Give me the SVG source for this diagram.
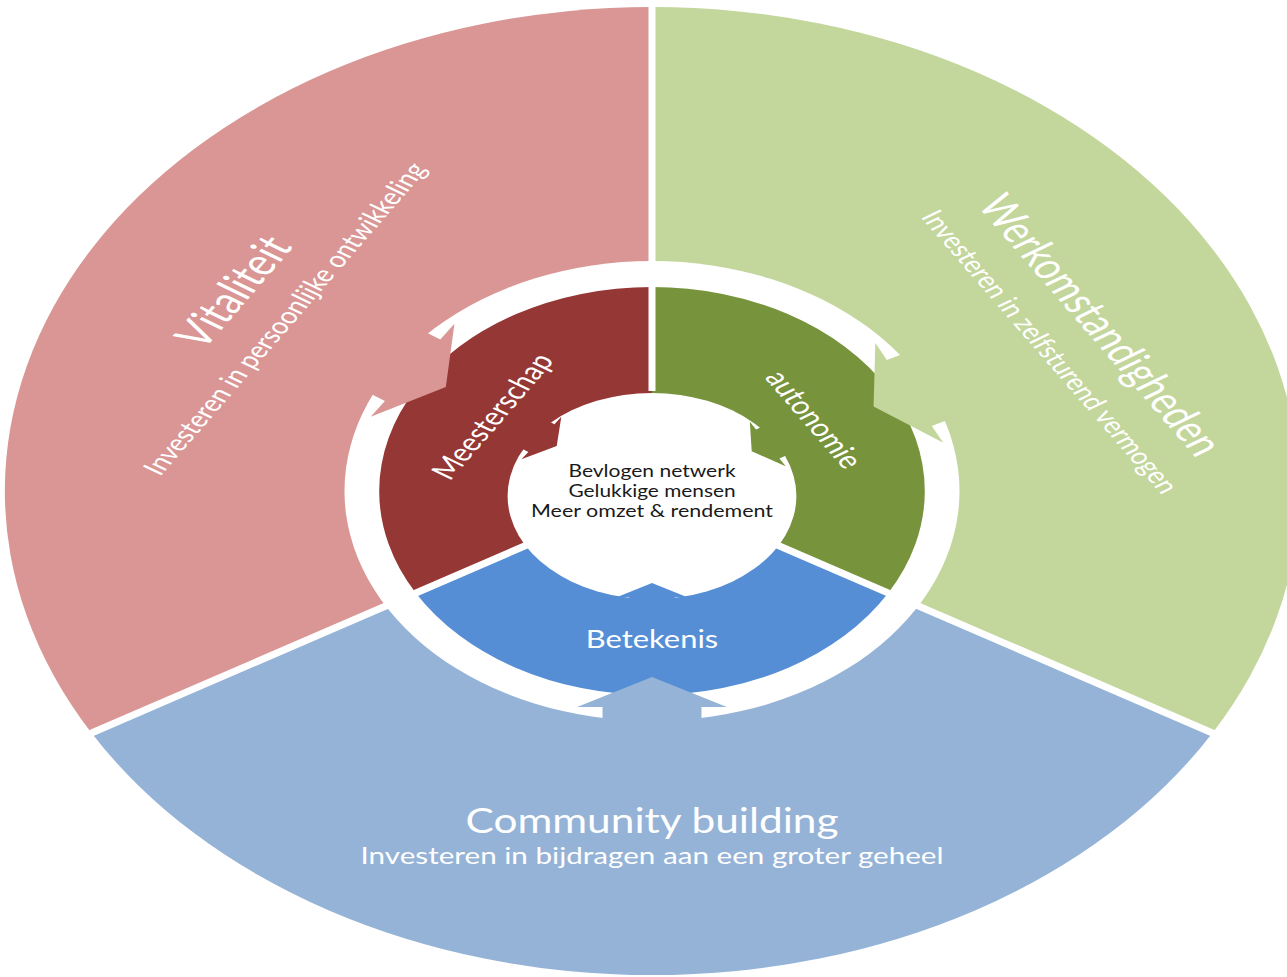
<svg xmlns="http://www.w3.org/2000/svg" width="1287" height="977" viewBox="0 0 1287 977">
<defs>
<style>
.t{font-family:Lato,"Liberation Sans",sans-serif;fill:#ffffff;text-anchor:middle}
.c{font-family:Lato,"Liberation Sans",sans-serif;fill:#1a1a1a;font-size:17px;text-anchor:middle}
.sep{stroke:#ffffff;stroke-width:7;vector-effect:non-scaling-stroke;fill:none}
</style>
<polygon id="outerArrow" points="0,186 56,216 37,216 37,300 -37,300 -37,216 -56,216"/>
<polygon id="innerArrow" points="0,92 26,106 17,106 17,160 -17,160 -17,106 -26,106"/>
</defs>
<rect width="1287" height="977" fill="#ffffff"/>
<g transform="translate(652,491) scale(1.337,1)">
  <g id="node-vitaliteit">
    <path d="M0,0 L-419.2,242 A484,484 0 0 1 0,-484 Z" fill="#D99694"/>
    <text class="t" font-size="38" textLength="124" lengthAdjust="spacingAndGlyphs" transform="translate(-302,-192) rotate(-57)">Vitaliteit</text>
    <text class="t" font-size="23" textLength="367" lengthAdjust="spacingAndGlyphs" transform="translate(-268,-168) rotate(-57)">Investeren in persoonlijke ontwikkeling</text>
  </g>
  <g id="node-werkomstandigheden">
    <path d="M0,0 L0,-484 A484,484 0 0 1 419.2,242 Z" fill="#C3D69B"/>
    <text class="t" font-size="37" textLength="302" lengthAdjust="spacingAndGlyphs" transform="translate(325,-159) rotate(57)">Werkomstandigheden</text>
    <text class="t" font-size="23" textLength="332" lengthAdjust="spacingAndGlyphs" transform="translate(291,-135) rotate(57)">Investeren in zelfsturend vermogen</text>
  </g>
  <g id="node-community">
    <path d="M0,0 L419.2,242 A484,484 0 0 1 -419.2,242 Z" fill="#95B3D7"/>
    <text class="t" font-size="35" textLength="279" lengthAdjust="spacingAndGlyphs" x="0" y="342">Community building</text>
    <text class="t" font-size="24" textLength="436" lengthAdjust="spacingAndGlyphs" x="0" y="373">Investeren in bijdragen aan een groter geheel</text>
  </g>
  <circle id="ring" cx="0" cy="0" r="230" fill="#ffffff"/>
  <g id="node-meesterschap">
    <path d="M0,0 L-176.7,102 A204,204 0 0 1 0,-204 Z" fill="#953735"/>
  </g>
  <g id="node-autonomie">
    <path d="M0,0 L0,-204 A204,204 0 0 1 176.7,102 Z" fill="#77933C"/>
  </g>
  <g id="node-betekenis">
    <path d="M0,0 L176.7,102 A204,204 0 0 1 -176.7,102 Z" fill="#558ED5"/>
  </g>
  <g id="node-center">
    <ellipse cx="0" cy="5" rx="108" ry="103" fill="#ffffff"/>
    <text class="c" x="0" y="-14" textLength="125" lengthAdjust="spacingAndGlyphs">Bevlogen netwerk</text>
    <text class="c" x="0" y="6" textLength="125" lengthAdjust="spacingAndGlyphs">Gelukkige mensen</text>
    <text class="c" x="0" y="26" textLength="181" lengthAdjust="spacingAndGlyphs">Meer omzet &amp; rendement</text>
  </g>
  <g id="connectors">
    <use href="#innerArrow" fill="#953735" transform="rotate(125,0,5)"/>
    <use href="#innerArrow" fill="#77933C" transform="rotate(-121,0,5)"/>
    <use href="#innerArrow" fill="#558ED5"/>
    <use href="#outerArrow" fill="#D99694" transform="rotate(124)"/>
    <use href="#outerArrow" fill="#C3D69B" transform="rotate(-117)"/>
    <use href="#outerArrow" fill="#95B3D7"/>
  </g>
  <g id="separators">
    <line class="sep" x1="0" y1="-100" x2="0" y2="-490"/>
    <line class="sep" x1="86.6" y1="50" x2="424.4" y2="245"/>
    <line class="sep" x1="-86.6" y1="50" x2="-424.4" y2="245"/>
  </g>
  <g id="labels">
    <text class="t" font-size="25" textLength="144" lengthAdjust="spacingAndGlyphs" transform="translate(-112,-70) rotate(-57)">Meesterschap</text>
    <text class="t" font-size="25" textLength="111" lengthAdjust="spacingAndGlyphs" transform="translate(114,-67) rotate(57)">autonomie</text>
    <text class="t" font-size="25" textLength="99" lengthAdjust="spacingAndGlyphs" x="0" y="157">Betekenis</text>
  </g>
</g>
</svg>
